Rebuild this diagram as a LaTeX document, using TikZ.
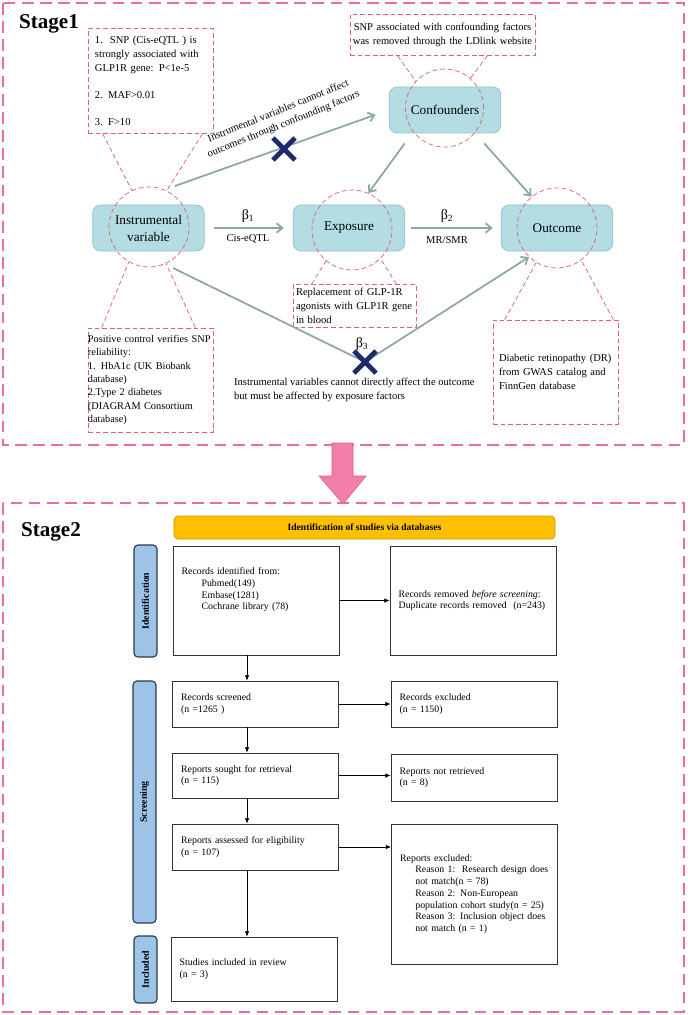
\documentclass[tikz,border=0pt]{standalone}
\usepackage{fontspec}
\setmainfont{Liberation Serif}
\usetikzlibrary{arrows.meta, positioning, calc, shapes.misc}
\definecolor{pinkline}{HTML}{E96E9C}
\definecolor{pinkfill}{HTML}{F27FAA}
\definecolor{pinkdark}{HTML}{D65A8A}
\definecolor{tealfill}{HTML}{B3DDE2}
\definecolor{tealline}{HTML}{8CC3CA}
\definecolor{redline}{HTML}{DE6266}
\definecolor{grayarrow}{HTML}{8DA6A6}
\definecolor{navy}{HTML}{1E2A6E}
\definecolor{sidefill}{HTML}{9DC3E6}
\definecolor{sideline}{HTML}{2B3A4F}
\definecolor{bannerfill}{HTML}{FFC000}
\definecolor{bannerline}{HTML}{C99400}
\definecolor{boxline}{HTML}{333333}

\begin{document}
\begin{tikzpicture}[
        x=0.03cm, y=-0.03cm,
        stagebox/.style={
          draw=pinkline,
          line width=2.5pt,
          dash pattern=on 10pt off 5.5pt
        },
        stagetitle/.style={
          anchor=base west,
          font=\fontsize{18}{22}\selectfont\bfseries
        },
        entity/.style={
          rectangle,
          rounded corners=0.24cm,
          draw=tealline,
          fill=tealfill,
          line width=0.6pt,
          minimum width=3.35cm,
          minimum height=1.38cm,
          align=center,
          font=\fontsize{11.3}{14.5}\selectfont
        },
        ring/.style={
          circle,
          draw=redline,
          dash pattern=on 4pt off 2.5pt,
          line width=0.6pt,
          minimum size=2.4cm,
          inner sep=0pt
        },
        note/.style={
          rectangle,
          draw=redline,
          dash pattern=on 4pt off 2.5pt,
          line width=0.6pt,
          align=left,
          font=\fontsize{9}{12}\selectfont
        },
        tie/.style={
          draw=redline,
          dash pattern=on 4pt off 2.5pt,
          line width=0.6pt
        },
        garrow/.style={
          -{Straight Barb[length=5pt,width=8pt]},
          draw=grayarrow,
          line width=1.5pt
        },
        crossmark/.style={
          cross out,
          draw=navy,
          line width=4pt,
          minimum size=0.52cm,
          inner sep=0pt
        },
        small/.style={
          font=\fontsize{9}{12}\selectfont
        },
        beta/.style={
          font=\fontsize{12}{14}\selectfont
        },
        banner/.style={
          rectangle,
          rounded corners=0.12cm,
          draw=bannerline,
          fill=bannerfill,
          line width=0.6pt,
          minimum width=11.43cm,
          minimum height=0.69cm,
          font=\fontsize{8.2}{10}\selectfont\bfseries
        },
        flowbox/.style={
          rectangle,
          draw=boxline,
          line width=0.8pt,
          align=left,
          inner xsep=0.26cm,
          text width=4.46cm,
          font=\fontsize{8.4}{10}\selectfont
        },
        sidelab/.style={
          rectangle,
          rounded corners=0.12cm,
          draw=sideline,
          fill=sidefill,
          line width=1pt,
          rotate=90,
          minimum height=0.69cm,
          font=\fontsize{8.4}{10}\selectfont\bfseries
        },
        barrow/.style={
          -{Latex[length=4.5pt,width=4pt]},
          draw=black,
          line width=0.6pt
        }
      ]

      \useasboundingbox (0,0) rectangle (687,1015);

      % Stage frames
      \draw[stagebox] (3,3) rectangle (684,445);
      \draw[stagebox] (3,503) rectangle (684,1012);
      \node[stagetitle] (stageone) at (15,29) {Stage1};
      \node[stagetitle] (stagetwo) at (17,536) {Stage2};

      % Entities
      \node[entity] (iv) at (148.5,228) {Instrumental\\variable};
      \node[entity] (expo) at (349,228) {Exposure};
      \node[entity] (outcome) at (557,228) {Outcome};
      \node[entity] (conf) at (445,110) {Confounders};

      % Rings
      \node[ring] (ivring) at (149,227) {};
      \node[ring] (exporing) at (352,230) {};
      \node[ring] (outring) at (557,228) {};
      \node[ring, minimum size=2.34cm] (confring) at (444.5,108) {};

      % Notes
      \node[note, text width=3.33cm, inner xsep=0.21cm, minimum height=3.15cm] (critnote) at (150.5,81)
        {1.\ \ SNP (Cis-eQTL ) is\\strongly associated with\\GLP1R gene: P<1e-5\\[11pt]2. MAF>0.01\\[11pt]3. F>10};
      \node[note, align=center, text width=5.47cm, inner xsep=0.04cm, minimum height=1.23cm] (confnote) at (442.5,35)
        {SNP associated with confounding factors\\was removed through the LDlink website};
      \node[note, text width=3.51cm, inner xsep=0.09cm, minimum height=1.26cm] (exponote) at (354.5,306)
        {Replacement of GLP-1R\\agonists with GLP1R gene\\in blood};
      \node[note, text width=3.75cm, inner xsep=0pt, minimum height=3.12cm, font=\fontsize{8.8}{11.4}\selectfont] (ctrlnote) at (150.5,380)
        {Positive control verifies SNP\\reliability:\\1. HbA1c (UK Biobank\\database)\\2.Type 2 diabetes\\(DIAGRAM Consortium\\database)};
      \node[note, text width=3.39cm, inner xsep=0.18cm, minimum height=3.12cm] (outnote) at (555.5,372)
        {Diabetic retinopathy (DR)\\from GWAS catalog and\\FinnGen database};

      % Ties
      \draw[tie] ($(critnote.south west)+(15,0)$) -- (ivring.115);
      \draw[tie] ($(critnote.south east)+(-11,0)$) -- (ivring.64);
      \draw[tie] ($(confnote.south west)+(48,0)$) -- (confring.137);
      \draw[tie] ($(confnote.south east)+(-48,0)$) -- (confring.49);
      \draw[tie] ($(exponote.north west)+(19,0)$) -- (exporing.230);
      \draw[tie] ($(exponote.north east)+(-20,0)$) -- (exporing.315);
      \draw[tie] ($(ctrlnote.north west)+(14,0)$) -- (ivring.240);
      \draw[tie] ($(ctrlnote.north east)+(-18,0)$) -- (ivring.295);
      \draw[tie] ($(outnote.north west)+(12,0)$) -- (outring.239);
      \draw[tie] ($(outnote.north east)+(-5,0)$) -- (outring.307);

      % Paths
      \coordinate (ivtop) at (175,186);
      \coordinate (ivlow) at (173,268);
      \coordinate (xone) at (284,149);
      \coordinate (xthree) at (365,362);
      \draw[garrow, shorten >=0.42cm] (ivtop) -- (conf.west);
      \draw[garrow] ($(conf.south west)+(16,10)$) -- (exporing.66);
      \draw[garrow] ($(conf.south east)+(-17,10)$) -- (outring.129);
      \draw[garrow, shorten <=0.27cm, shorten >=0.27cm] (iv.east) -- (expo.west);
      \draw[garrow, shorten <=0.18cm, shorten >=0.24cm] (expo.east) -- (outcome.west);
      \draw[garrow] (ivlow) -- (xthree) -- (outring.226);
      \node[crossmark] (crossone) at (xone) {};
      \node[crossmark] (crossthree) at (xthree) {};

      % Path labels
      \node[small, align=center, rotate=22] (confpath) at (281,118) {Instrumental variables cannot affect\\outcomes through confounding factors};
      \node[beta] (betaone) at (248,216) {β\textsubscript{1}};
      \node[small] (cisqtl) at (248,239) {Cis-eQTL};
      \node[beta] (betatwo) at (447,216) {β\textsubscript{2}};
      \node[small] (mrsmr) at (447,240) {MR/SMR};
      \node[beta] (betathree) at (362,344) {β\textsubscript{3}};
      \node[small, anchor=west, align=left] (directpath) at (230,390) {Instrumental variables cannot directly affect the outcome\\but must be affected by exposure factors};

      % Stage arrow
      \filldraw[fill=pinkfill, draw=pinkdark, line width=0.5pt]
        (332,443) -- (353,443) -- (353,476) -- (366,476) -- (343,504) -- (319,476) -- (332,476) -- cycle;

      % Flow chart
      \node[banner] (dbhead) at (364.5,527.5) {Identification of studies via databases};
      \node[sidelab, minimum width=3.36cm] (idlab) at (145.5,601) {Identification};
      \node[sidelab, minimum width=7.26cm] (scrlab) at (144.5,802) {Screening};
      \node[sidelab, minimum width=2.01cm] (inclab) at (145.5,969.5) {Included};

      \node[flowbox, minimum height=3.27cm] (ident) at (256,600.5)
        {Records identified from:\\\hspace*{17pt}Pubmed(149)\\\hspace*{17pt}Embase(1281)\\\hspace*{17pt}Cochrane library (78)\\[10pt]\mbox{}};
      \node[flowbox, minimum height=3.27cm] (removed) at (473,600.5)
        {Records removed \textit{before screening}:\\Duplicate records removed\ \ (n=243)};
      \node[flowbox, minimum height=1.38cm] (screened) at (255.5,704) {Records screened\\(n =1265 )};
      \node[flowbox, minimum height=1.38cm] (excluded) at (474,704) {Records excluded\\(n = 1150)};
      \node[flowbox, minimum height=1.35cm] (sought) at (255.5,775.5) {Reports sought for retrieval\\(n = 115)};
      \node[flowbox, minimum height=1.41cm] (notretr) at (474,777.5) {Reports not retrieved\\(n = 8)};
      \node[flowbox, minimum height=1.38cm] (assessed) at (255.5,847) {Reports assessed for eligibility\\(n = 107)};
      \node[flowbox, minimum height=4.2cm] (repexcl) at (474.5,894)
        {Reports excluded:\\\hspace*{13pt}Reason 1:\ \ Research design does\\\hspace*{13pt}not match(n = 78)\\\hspace*{13pt}Reason 2: Non-European\\\hspace*{13pt}population cohort study(n = 25)\\\hspace*{13pt}Reason 3: Inclusion object does\\\hspace*{13pt}not match (n = 1)};
      \node[flowbox, minimum height=1.92cm] (included) at (254,969) {Studies included in review\\(n = 3)};

      \coordinate (spine) at (247,0);
      \draw[barrow] (ident.east) -- (removed.west);
      \draw[barrow] (screened.east) -- (excluded.west);
      \draw[barrow] (sought.east) -- (sought.east -| notretr.west);
      \draw[barrow] (assessed.east) -- (assessed.east -| repexcl.west);
      \draw[barrow] (ident.south -| spine) -- (screened.north -| spine);
      \draw[barrow] (screened.south -| spine) -- (sought.north -| spine);
      \draw[barrow] (sought.south -| spine) -- (assessed.north -| spine);
      \draw[barrow] (assessed.south -| spine) -- (included.north -| spine);

    \end{tikzpicture}
\end{document}
